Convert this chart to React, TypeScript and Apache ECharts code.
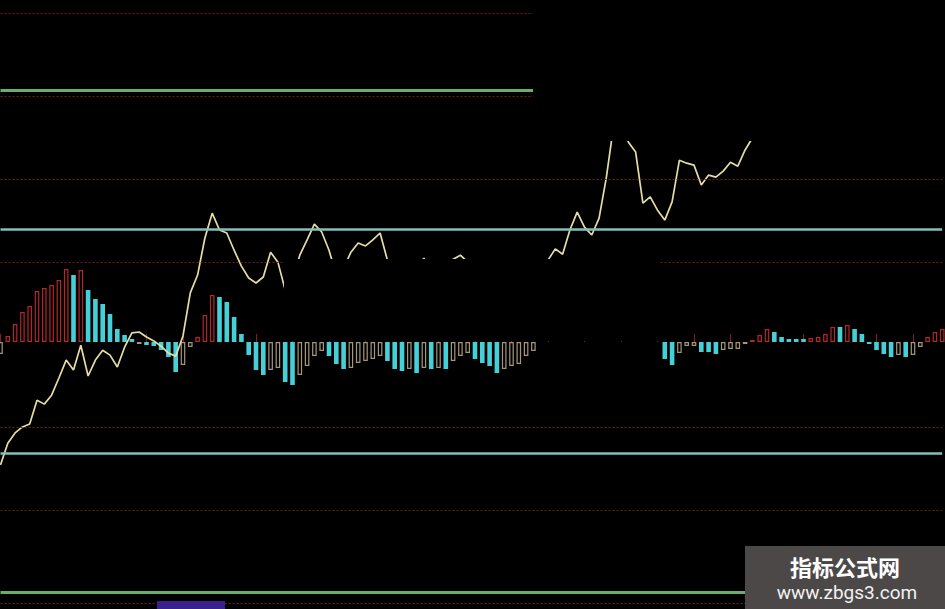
import React, { useEffect, useRef } from "react";
import * as echarts from "echarts";

// 130 trading periods on the x axis
const periods: string[] = Array.from({ length: 130 }, (_, i) => `P${i + 1}`);

// Histogram (MACD-style) bar values; null = hidden part of the picture
const barValues: (number | null)[] = [
  -0.12, 0.06, 0.18, 0.30, 0.36, 0.51, 0.54, 0.57, 0.62, 0.73,
  0.67, 0.72, 0.52, 0.43, 0.38, 0.28, 0.13, 0.07, 0.03, -0.02,
  -0.03, -0.04, -0.08, -0.15, -0.30, -0.23, -0.05, 0.05, 0.27, 0.47,
  0.45, 0.40, 0.25, 0.08, -0.13, -0.28, -0.33, -0.28, -0.26, -0.40,
  -0.43, -0.33, -0.24, -0.14, -0.09, -0.14, -0.22, -0.27, -0.26, -0.21,
  -0.19, -0.17, -0.14, -0.19, -0.27, -0.29, -0.27, -0.31, -0.26, -0.27,
  -0.26, -0.27, -0.19, -0.14, -0.11, -0.17, -0.21, -0.24, -0.31, -0.27,
  -0.24, -0.22, -0.14, -0.09, null, null, null, null, null, null,
  null, null, null, null, null, null, null, null, null, null,
  null, -0.17, -0.23, -0.11, -0.04, -0.04, -0.10, -0.10, -0.12, -0.08,
  -0.07, -0.07, -0.02, 0.02, 0.07, 0.13, 0.10, 0.05, 0.03, 0.03,
  0.03, 0.04, 0.05, 0.08, 0.15, 0.15, 0.17, 0.13, 0.08, -0.02,
  -0.08, -0.12, -0.15, -0.13, -0.15, -0.13, -0.05, 0.05, 0.10, 0.13,
];

// Bar style kind: r = red hollow, c = cyan solid, t = tan hollow, - = hidden
const barKinds: string[] = [
  "t", "r", "r", "r", "r", "r", "r", "r", "r", "r",
  "c", "r", "c", "c", "c", "c", "c", "c", "c", "t",
  "c", "c", "c", "c", "c", "t", "t", "r", "r", "r",
  "c", "c", "c", "c", "c", "c", "c", "t", "t", "c",
  "c", "t", "t", "t", "t", "c", "c", "c", "t", "t",
  "t", "t", "t", "c", "c", "c", "t", "c", "t", "c",
  "t", "c", "t", "t", "t", "c", "c", "c", "c", "t",
  "t", "t", "t", "t", "-", "-", "-", "-", "-", "-",
  "-", "-", "-", "-", "-", "-", "-", "-", "-", "-",
  "-", "c", "c", "t", "t", "t", "c", "c", "c", "t",
  "t", "t", "t", "r", "r", "r", "c", "c", "c", "c",
  "c", "r", "r", "r", "r", "c", "r", "c", "c", "c",
  "c", "c", "c", "t", "c", "t", "t", "r", "r", "r",
];

// Oscillator line values (0..100 style scale)
const lineValues: number[] = [
  13.6, 20.2, 23.3, 25.1, 26.0, 33.2, 32.0, 34.7, 39.9, 45.3,
  42.3, 49.8, 40.5, 45.3, 48.3, 46.8, 43.2, 49.2, 53.5, 53.8,
  52.3, 51.1, 49.5, 47.4, 46.5, 52.6, 65.6, 71.0, 82.2, 89.7,
  84.6, 83.7, 78.5, 73.7, 70.1, 68.6, 70.4, 77.9, 74.9, 66.5,
  69.5, 77.0, 81.6, 86.4, 84.0, 78.5, 71.0, 73.1, 77.9, 80.7,
  79.8, 81.6, 83.7, 75.5, 69.5, 66.5, 69.5, 73.1, 76.1, 72.5,
  70.1, 73.1, 75.8, 77.0, 74.9, 69.5, 66.5, 63.4, 65.0, 68.0,
  66.5, 69.5, 71.0, 72.5, 73.7, 75.5, 78.9, 77.3, 84.6, 90.0,
  85.5, 83.1, 88.2, 100.6, 116.3, 117.8, 111.2, 108.2, 92.7, 94.6,
  90.6, 87.6, 93.1, 105.7, 104.8, 104.2, 98.2, 101.2, 100.6, 102.4,
  105.1, 103.9, 108.8, 112.4,
];

// Reference levels on the oscillator scale
const dottedLevels: number[] = [150, 125, 100, 75, 25, 0, -28.1];
const cyanLevels: number[] = [84.9, 17.2];
const greenLevels: number[] = [126.9, -24.8];

const RED = "#b02828";
const CYAN = "#45d0d8";
const TAN = "#a6977a";

export default function App() {
  const ref = useRef<HTMLDivElement>(null);

  useEffect(() => {
    if (!ref.current) return;
    const chart = echarts.init(ref.current, undefined, { renderer: "svg" });

    const barData = barValues.map((v, i) => {
      const k = barKinds[i];
      if (v === null) return null;
      if (k === "c") {
        return { value: v, itemStyle: { color: CYAN, borderWidth: 0 } };
      }
      return {
        value: v,
        itemStyle: {
          color: "#000",
          borderColor: k === "r" ? RED : TAN,
          borderWidth: 1.2,
        },
      };
    });

    const markData: any[] = [
      ...dottedLevels.map((y) => ({
        yAxis: y,
        lineStyle: { color: "#761c1c", width: 1.2, type: [2, 2] },
      })),
      ...cyanLevels.map((y) => ({
        yAxis: y,
        lineStyle: { color: "#86bdbd", width: 2.5, type: "solid" },
      })),
      ...greenLevels.map((y) => ({
        yAxis: y,
        lineStyle: { color: "#6bae6b", width: 3, type: "solid" },
      })),
    ];

    chart.setOption({
      animation: false,
      backgroundColor: "#000",
      grid: { left: 0.5, right: 2.8, top: 0, bottom: 0, containLabel: false },
      xAxis: {
        type: "category",
        data: periods,
        boundaryGap: false,
        axisLine: { show: false },
        axisLabel: { show: false },
        axisTick: {
          show: true,
          inside: true,
          interval: 4,
          length: 8,
          lineStyle: { color: "#8a1e1e", width: 1 },
        },
        splitLine: { show: false },
      },
      yAxis: [
        { type: "value", min: -2.67, max: 3.42, show: false, splitLine: { show: false } },
        { type: "value", min: -29.9, max: 154.1, show: false, splitLine: { show: false } },
      ],
      series: [
        {
          type: "bar",
          yAxisIndex: 0,
          data: barData,
          barWidth: 4.6,
          z: 2,
        },
        {
          type: "line",
          yAxisIndex: 1,
          data: lineValues,
          symbol: "none",
          lineStyle: { color: "#e6dda4", width: 1.7 },
          z: 3,
          markLine: {
            silent: true,
            symbol: "none",
            label: { show: false },
            data: markData,
          },
        },
      ],
      graphic: [
        { type: "rect", shape: { x: 533, y: 0, width: 412, height: 141 }, style: { fill: "#000" }, z: 100 },
        { type: "rect", shape: { x: 284, y: 259, width: 376, height: 82 }, style: { fill: "#000" }, z: 100 },
        { type: "rect", shape: { x: 157, y: 601, width: 68, height: 8 }, style: { fill: "#3b2190" }, z: 100 },
        { type: "rect", shape: { x: 745, y: 546, width: 200, height: 63 }, style: { fill: "#4c4847" }, z: 110 },
        {
          type: "text",
          x: 845,
          y: 566,
          z: 111,
          style: {
            text: "指标公式网",
            fill: "#ffffff",
            fontSize: 22,
            fontWeight: "bold",
            fontFamily: "Noto Sans CJK SC",
            align: "center",
            verticalAlign: "middle",
          },
        },
        {
          type: "text",
          x: 847,
          y: 592,
          z: 111,
          style: {
            text: "www.zbgs3.com",
            fill: "#f2f2f2",
            fontSize: 19,
            fontFamily: "Liberation Sans Narrow, Roboto, sans-serif",
            align: "center",
            verticalAlign: "middle",
          },
        },
      ],
    });

    return () => chart.dispose();
  }, []);

  return (
    <div
      ref={ref}
      style={{ position: "fixed", left: 0, top: 0, width: 945, height: 609, background: "#000" }}
    />
  );
}
